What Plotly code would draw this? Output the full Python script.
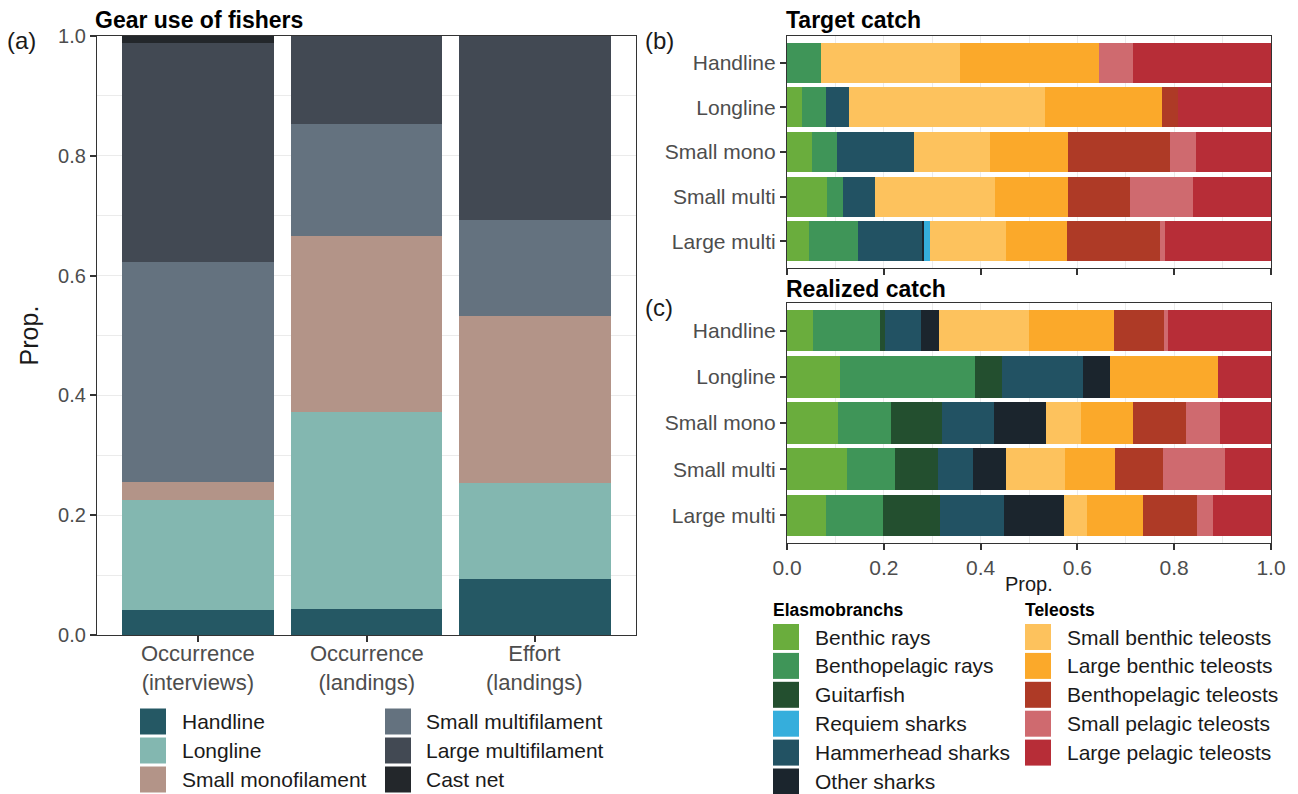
import plotly.graph_objects as go

W, H = 1298, 794


def px(x):
    return x / W


def py(y):
    return 1 - y / H


# ---- Panel (a): gear use of fishers -------------------------------------
measures = ["Occurrence (interviews)", "Occurrence (landings)", "Effort (landings)"]
gear_types = ["Handline", "Longline", "Small monofilament",
              "Small multifilament", "Large multifilament", "Cast net"]
gear_colors = ["#255864", "#83b7b0", "#b39488", "#64727f", "#424953", "#23272b"]

handline = [0.042, 0.044, 0.094]
longline = [0.183, 0.328, 0.159]
small_mono = [0.030, 0.294, 0.279]
small_multi = [0.367, 0.187, 0.160]
large_multi = [0.366, 0.147, 0.308]
cast_net = [0.012, 0.0, 0.0]

# ---- Panels (b) and (c): target and realized catch ----------------------
catch_rows = ["Handline", "Longline", "Small mono", "Small multi", "Large multi"]

elasmo_groups = ["Benthic rays", "Benthopelagic rays", "Guitarfish",
                 "Requiem sharks", "Hammerhead sharks", "Other sharks"]
elasmo_colors = ["#6aad3d", "#3f9558", "#234f2f", "#35aedc", "#225263", "#1b252d"]
teleost_groups = ["Small benthic teleosts", "Large benthic teleosts",
                  "Benthopelagic teleosts", "Small pelagic teleosts",
                  "Large pelagic teleosts"]
teleost_colors = ["#fdc25d", "#fba92a", "#ae3a26", "#cf6a6f", "#b72d37"]

# order in which the groups are stacked along each bar
stack_order = ["Benthic rays", "Benthopelagic rays", "Guitarfish",
               "Hammerhead sharks", "Other sharks", "Requiem sharks",
               "Small benthic teleosts", "Large benthic teleosts",
               "Benthopelagic teleosts", "Small pelagic teleosts",
               "Large pelagic teleosts"]

target_handline = [0.000, 0.070, 0.000, 0.000, 0.000, 0.000, 0.287, 0.287, 0.000, 0.071, 0.285]
target_longline = [0.030, 0.050, 0.000, 0.048, 0.000, 0.000, 0.405, 0.242, 0.032, 0.000, 0.193]
target_small_mono = [0.051, 0.052, 0.000, 0.159, 0.000, 0.000, 0.158, 0.160, 0.211, 0.053, 0.156]
target_small_multi = [0.082, 0.033, 0.000, 0.066, 0.000, 0.000, 0.248, 0.152, 0.127, 0.130, 0.162]
target_large_multi = [0.046, 0.101, 0.000, 0.131, 0.006, 0.012, 0.156, 0.127, 0.192, 0.010, 0.219]

realized_handline = [0.054, 0.139, 0.010, 0.074, 0.038, 0.000, 0.185, 0.176, 0.103, 0.009, 0.212]
realized_longline = [0.110, 0.278, 0.057, 0.167, 0.055, 0.000, 0.000, 0.223, 0.000, 0.000, 0.110]
realized_small_mono = [0.106, 0.108, 0.107, 0.107, 0.107, 0.000, 0.073, 0.107, 0.109, 0.071, 0.105]
realized_small_multi = [0.123, 0.101, 0.088, 0.072, 0.068, 0.000, 0.122, 0.104, 0.099, 0.128, 0.095]
realized_large_multi = [0.081, 0.117, 0.119, 0.131, 0.124, 0.000, 0.047, 0.116, 0.113, 0.033, 0.119]

prop_ticks = [0.0, 0.2, 0.4, 0.6, 0.8, 1.0]

FONT = "Liberation Sans, Arial, Helvetica, sans-serif"
TICK_COLOR = "#4d4d4d"
LINE_COLOR = "#333333"
GRID = "#ebebeb"

group_color = dict(zip(elasmo_groups + teleost_groups, elasmo_colors + teleost_colors))

fig = go.Figure()

gear_shares = [handline, longline, small_mono, small_multi, large_multi, cast_net]
for name, vals, col in zip(gear_types, gear_shares, gear_colors):
    fig.add_trace(go.Bar(x=measures, y=vals, name=name, marker_color=col,
                         marker_line_width=0, xaxis="x", yaxis="y",
                         showlegend=False))

target_rows = [target_handline, target_longline, target_small_mono,
               target_small_multi, target_large_multi]
realized_rows = [realized_handline, realized_longline, realized_small_mono,
                 realized_small_multi, realized_large_multi]

for rows, xa, ya in [(target_rows, "x2", "y2"), (realized_rows, "x3", "y3")]:
    for j, grp in enumerate(stack_order):
        fig.add_trace(go.Bar(x=[r[j] for r in rows], y=catch_rows, orientation="h",
                             name=grp, marker_color=group_color[grp],
                             marker_line_width=0, xaxis=xa, yaxis=ya,
                             showlegend=False))

frame = dict(showline=True, mirror=True, linecolor=LINE_COLOR, linewidth=1.2,
             ticks="outside", ticklen=6, tickwidth=1.6, tickcolor=LINE_COLOR,
             zeroline=False, automargin=False)

fig.update_layout(
    template="none",
    width=W, height=H, autosize=False,
    margin=dict(l=0, r=0, t=0, b=0, pad=0),
    paper_bgcolor="white", plot_bgcolor="white",
    barmode="stack", bargap=0.1,
    font=dict(family=FONT, color="#1a1a1a"),
    xaxis=dict(domain=[px(97), px(636)], anchor="y", range=[-0.6, 2.6],
               showticklabels=False, showgrid=False, **frame),
    yaxis=dict(domain=[py(635), py(36)], anchor="x", range=[0, 1],
               tickvals=prop_ticks, tickformat=".1f",
               tickfont=dict(size=20, color=TICK_COLOR),
               showgrid=True, gridcolor=GRID, gridwidth=1.2,
               minor=dict(dtick=0.1, showgrid=True, gridcolor=GRID, gridwidth=0.7),
               title=dict(text="Prop.", font=dict(size=25, color="#1a1a1a"), standoff=12),
               **frame),
    xaxis2=dict(domain=[px(787), px(1271)], anchor="y2", range=[0, 1],
                tickvals=prop_ticks, showticklabels=False,
                showgrid=True, gridcolor=GRID, gridwidth=1.2,
                minor=dict(dtick=0.1, showgrid=True, gridcolor=GRID, gridwidth=0.7),
                **frame),
    yaxis2=dict(domain=[py(268), py(36)], anchor="x2", type="category",
                categoryorder="array", categoryarray=catch_rows,
                range=[4.6, -0.6], showgrid=False,
                tickfont=dict(size=21, color=TICK_COLOR), **frame),
    xaxis3=dict(domain=[px(787), px(1271)], anchor="y3", range=[0, 1],
                tickvals=prop_ticks, tickformat=".1f",
                tickfont=dict(size=21, color=TICK_COLOR),
                showgrid=True, gridcolor=GRID, gridwidth=1.2,
                minor=dict(dtick=0.1, showgrid=True, gridcolor=GRID, gridwidth=0.7),
                **frame),
    yaxis3=dict(domain=[py(543), py(303)], anchor="x3", type="category",
                categoryorder="array", categoryarray=catch_rows,
                range=[4.6, -0.6], showgrid=False,
                tickfont=dict(size=21, color=TICK_COLOR), **frame),
)

annotations = []


def text_at(x, y, text, size, bold=False, color="#1a1a1a", xanchor="left", xref="paper"):
    annotations.append(dict(
        x=x if xref != "paper" else px(x), y=py(y), xref=xref, yref="paper",
        text=f"<b>{text}</b>" if bold else text, showarrow=False,
        xanchor=xanchor, yanchor="middle", borderpad=0,
        font=dict(family=FONT, size=size, color=color)))


# panel titles and tags
text_at(94, 20, "Gear use of fishers", 23, bold=True, color="black")
text_at(785, 20, "Target catch", 23, bold=True, color="black")
text_at(785, 289, "Realized catch", 23, bold=True, color="black")
text_at(6, 40, "(a)", 24)
text_at(644, 41, "(b)", 24)
text_at(644, 307, "(c)", 24)

# x-axis title of the realized-catch panel
text_at(1029, 584, "Prop.", 20, xanchor="center")

# two-line category labels under panel (a)
for m in measures:
    first, second = m.split(" (")
    text_at(m, 667.5, first + "<br>(" + second, 22, color=TICK_COLOR,
            xanchor="center", xref="x")

shapes = []


def legend_column(names, colors, x_key, x_text, y0, pitch, key=26):
    for i, (n, c) in enumerate(zip(names, colors)):
        yc = y0 + i * pitch
        shapes.append(dict(type="rect", xref="paper", yref="paper",
                           x0=px(x_key), x1=px(x_key + key),
                           y0=py(yc + key / 2), y1=py(yc - key / 2),
                           fillcolor=c, line=dict(width=0)))
        text_at(x_text, yc, n, 21)


# legend for panel (a): two columns, filled top to bottom
legend_column(gear_types[:3], gear_colors[:3], 140, 181, 721.5, 29)
legend_column(gear_types[3:], gear_colors[3:], 385, 425, 721.5, 29)

# legend for panels (b) and (c)
text_at(772, 610, "Elasmobranchs", 17.5, bold=True, color="black")
text_at(1024, 610, "Teleosts", 17.5, bold=True, color="black")
legend_column(elasmo_groups, elasmo_colors, 773, 814, 637, 28.9)
legend_column(teleost_groups, teleost_colors, 1025, 1066, 637, 28.9)

fig.update_layout(annotations=annotations, shapes=shapes)

fig.write_html("out.html", config={"displayModeBar": False})
